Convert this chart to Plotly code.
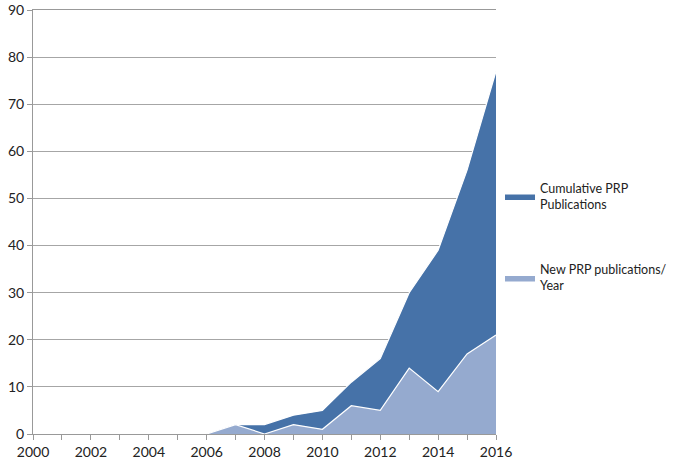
import plotly.graph_objects as go

# ------------------------- DATA -------------------------
years = list(range(2000, 2017))
new_per_year = [None, None, None, None, None, None, 0, 2, 0, 2, 1, 6, 5, 14, 9, 17, 21]
cumulative = [None, None, None, None, None, None, 0, 2, 2, 4, 5, 11, 16, 30, 39, 56, 77]
x_tick_labels = [str(y) for y in range(2000, 2017, 2)]

dark_blue = "#4672A8"
light_blue = "#95AACF"
font_family = "Lato, 'Open Sans', sans-serif"

fig = go.Figure()

# cumulative area drawn behind
fig.add_trace(go.Scatter(
    x=years, y=cumulative, name="Cumulative PRP<br>Publications",
    mode="lines", fill="tozeroy", fillcolor=dark_blue, legendgroup="cum",
    line=dict(color="white", width=1.2),
))

# new publications per year in front
fig.add_trace(go.Scatter(
    x=years, y=new_per_year, name="New PRP publications/<br>Year",
    mode="lines", fill="tozeroy", fillcolor=light_blue, legendgroup="new",
    line=dict(color="white", width=1.2),
))

fig.update_layout(
    width=684, height=463,
    margin=dict(l=33, r=188, t=10, b=29, autoexpand=False),
    plot_bgcolor="white", paper_bgcolor="white",
    font=dict(family=font_family, size=14, color="#222222"),
    showlegend=True,
    legend=dict(
        xref="container", yref="container",
        x=0.731, y=0.626, xanchor="left", yanchor="top",
        traceorder="grouped", tracegroupgap=46, itemwidth=30,
        font=dict(size=12.5, color="#222222"),
    ),
    xaxis=dict(
        range=[2000, 2016], automargin=False,
        tickmode="array", tickvals=list(range(2000, 2017, 2)), ticktext=x_tick_labels,
        ticks="outside", ticklen=5, tickcolor="#999999",
        minor=dict(dtick=1, ticks="outside", ticklen=5, tickcolor="#999999"),
        showgrid=False, showline=True, linecolor="#999999", linewidth=1,
        mirror=True, zeroline=False,
    ),
    yaxis=dict(
        range=[0, 90], dtick=10, automargin=False, ticklabeloverflow="allow",
        ticks="outside", ticklen=5, tickcolor="#999999",
        showgrid=True, gridcolor="#a6a6a6", gridwidth=1,
        showline=True, linecolor="#999999", linewidth=1,
        zeroline=False,
    ),
)

# page body has a default margin; drop it so the figure sits at the corner
fig.write_html(
    "out.html",
    config={"displayModeBar": False},
    post_script="document.body.style.margin='0';",
)
